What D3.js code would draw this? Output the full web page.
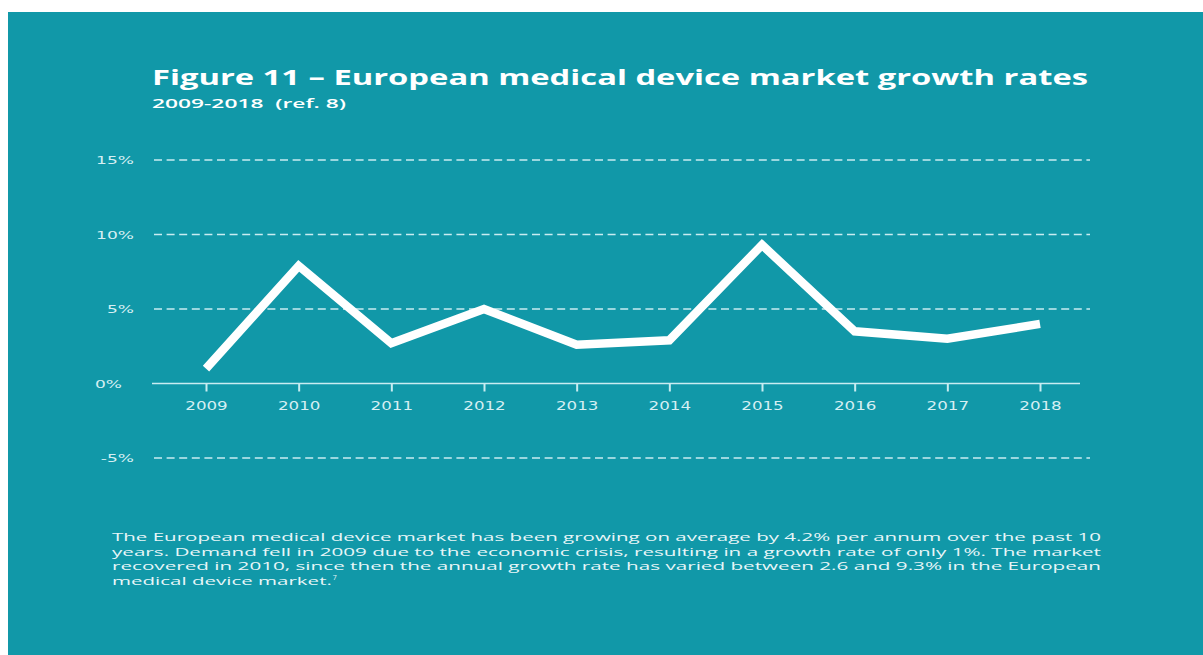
<!DOCTYPE html>
<html>
<head>
<meta charset="utf-8">
<script src="https://cdn.jsdelivr.net/npm/d3@7"></script>
<style>
  html, body { margin: 0; padding: 0; background: #ffffff; }
  svg { display: block; }
  text { white-space: pre; }
</style>
</head>
<body>
<svg id="chart" width="1203" height="655"></svg>
<script>
// Annual growth of the European medical device market, 2009-2018 (%)
const years = [2009, 2010, 2011, 2012, 2013, 2014, 2015, 2016, 2017, 2018];
const growth = [1.0, 7.9, 2.7, 5.0, 2.6, 2.9, 9.3, 3.5, 3.0, 4.0];

// Value axis ticks and their labels
const yTicks = [-5, 0, 5, 10, 15];
const yTickLabels = ["-5%", "0%", "5%", "10%", "15%"];

const titleText = "Figure 11 \u2013 European medical device market growth rates";
const subtitleText = "2009-2018  (ref. 8)";
const captionLines = [
  "The European medical device market has been growing on average by 4.2% per annum over the past 10",
  "years. Demand fell in 2009 due to the economic crisis, resulting in a growth rate of only 1%. The market",
  "recovered in 2010, since then the annual growth rate has varied between 2.6 and 9.3% in the European",
  "medical device market."
];
const footnoteMark = "7";

const TEAL = "rgb(17,152,168)";
const GRID = "#c9ecf1";
const LABEL = "#d6eff3";

const svg = d3.select("#chart");

// panel
svg.append("rect")
  .attr("x", 8).attr("y", 12)
  .attr("width", 1195).attr("height", 643)
  .attr("fill", TEAL);

// widen glyphs horizontally by factor k (the publication's typeface runs wide)
function stretch(sel, k) {
  sel.each(function () {
    const w = this.getComputedTextLength();
    d3.select(this).attr("textLength", w * k).attr("lengthAdjust", "spacingAndGlyphs");
  });
}
function fitTo(sel, width) {
  sel.attr("textLength", width).attr("lengthAdjust", "spacingAndGlyphs");
}

// title block
const title = svg.append("text")
  .attr("x", 152).attr("y", 85)
  .attr("fill", "#ffffff")
  .style("font-family", "'Open Sans', sans-serif")
  .style("font-weight", 700)
  .style("font-size", "21px")
  .text(titleText);
fitTo(title, 936);

const subtitle = svg.append("text")
  .attr("x", 152).attr("y", 107.5)
  .attr("fill", "#ffffff")
  .style("font-family", "'Open Sans', sans-serif")
  .style("font-weight", 600)
  .style("font-size", "12px")
  .text(subtitleText);
fitTo(subtitle, 194);

// scales
const x = d3.scalePoint().domain(years).range([206, 1040]);
const y = d3.scaleLinear().domain([-5, 15]).range([458, 160]);

// dashed gridlines (all but zero)
svg.append("g")
  .selectAll("line")
  .data(yTicks.filter(t => t !== 0))
  .join("line")
  .attr("x1", 154).attr("x2", 1090)
  .attr("y1", d => y(d)).attr("y2", d => y(d))
  .attr("stroke", GRID)
  .attr("stroke-width", 1.6)
  .attr("stroke-dasharray", "8,4.6");

// value-axis labels
const yAxis = d3.axisLeft(y)
  .tickValues(yTicks)
  .tickSize(0)
  .tickPadding(0)
  .tickFormat((d, i) => yTickLabels[i]);

const gy = svg.append("g")
  .attr("transform", "translate(134,0)")
  .call(yAxis);
gy.select(".domain").remove();
gy.selectAll("text")
  .attr("fill", LABEL)
  .style("font-family", "'DejaVu Sans', sans-serif")
  .style("font-size", "11px")
  .attr("dx", d => d === 0 ? -12 : 0);
stretch(gy.selectAll("text"), 1.55);

// baseline at zero
svg.append("line")
  .attr("x1", 152).attr("x2", 1080)
  .attr("y1", y(0)).attr("y2", y(0))
  .attr("stroke", GRID)
  .attr("stroke-width", 1.6);

// year axis
const xAxis = d3.axisBottom(x)
  .tickSize(8)
  .tickPadding(10);

const gx = svg.append("g")
  .attr("transform", `translate(0,${y(0)})`)
  .call(xAxis);
gx.select(".domain").remove();
gx.selectAll(".tick line")
  .attr("stroke", GRID)
  .attr("stroke-width", 2);
gx.selectAll("text")
  .attr("fill", LABEL)
  .style("font-family", "'DejaVu Sans', sans-serif")
  .style("font-size", "11.5px");
stretch(gx.selectAll("text"), 1.45);

// growth line
const line = d3.line()
  .x((d, i) => x(years[i]))
  .y(d => y(d));

svg.append("path")
  .datum(growth)
  .attr("d", line)
  .attr("fill", "none")
  .attr("stroke", "#ffffff")
  .attr("stroke-width", 8.5)
  .attr("stroke-linejoin", "miter")
  .attr("stroke-miterlimit", 10)
  .attr("stroke-linecap", "butt");

// caption (justified to the text column)
const caption = svg.append("g")
  .style("font-family", "'Open Sans', sans-serif")
  .style("font-weight", 400)
  .style("font-size", "11.5px")
  .attr("fill", "#e8f6f8");

const capTexts = caption.selectAll("text")
  .data(captionLines)
  .join("text")
  .attr("x", 112)
  .attr("y", (d, i) => 541 + i * 14.6)
  .text(d => d);

const natural = capTexts.nodes()[0].getComputedTextLength();
const k = 989 / natural;
capTexts.filter((d, i) => i < 3).call(fitTo, 989);
const last = capTexts.filter((d, i) => i === 3);
stretch(last, k);
const lastW = +last.attr("textLength");

caption.append("text")
  .attr("x", 112 + lastW + 1)
  .attr("y", 541 + 3 * 14.6 - 5)
  .style("font-size", "7px")
  .text(footnoteMark);
</script>
</body>
</html>
